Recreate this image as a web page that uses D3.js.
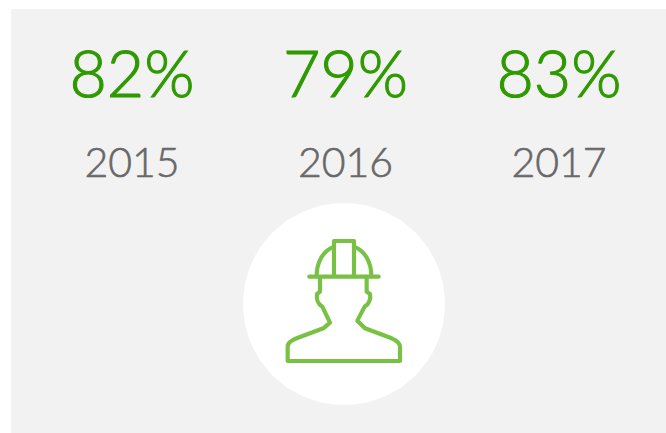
<!DOCTYPE html>
<html>
<head>
<meta charset="utf-8">
<script src="https://cdnjs.cloudflare.com/ajax/libs/d3/7.8.5/d3.min.js"></script>
<style>
html, body { margin: 0; padding: 0; background: #fff; }
svg { display: block; }
text { font-family: Lato, sans-serif; font-weight: 300; }
</style>
</head>
<body>
<svg class="chart"></svg>
<script>
var years = ["2015", "2016", "2017"];
var values = [82, 79, 83];

var width = 666,
    height = 433;

var chart = d3.select(".chart")
    .attr("width", width)
    .attr("height", height);

// Grey panel
chart.append("rect")
    .attr("x", 11)
    .attr("y", 9)
    .attr("width", width - 11)
    .attr("height", height - 9)
    .attr("fill", "#f2f2f3");

// One column per year
var x = d3.scalePoint()
    .domain(years)
    .range([132, 559]);

// Light weight plus a thin stroke gets closer to the original face
chart.selectAll(".value")
    .data(values)
    .enter().append("text")
    .attr("class", "value")
    .attr("x", function (d, i) { return x(years[i]); })
    .attr("y", 97)
    .attr("text-anchor", "middle")
    .attr("font-size", 64.5)
    .attr("fill", "#2f9a00")
    .attr("stroke", "#2f9a00")
    .attr("stroke-width", 1.1)
    .text(function (d) { return d + "%"; });

chart.selectAll(".year")
    .data(years)
    .enter().append("text")
    .attr("class", "year")
    .attr("x", function (d) { return x(d); })
    .attr("y", 177)
    .attr("text-anchor", "middle")
    .attr("font-size", 41)
    .attr("fill", "#686868")
    .attr("stroke", "#686868")
    .attr("stroke-width", 0.6)
    .text(function (d) { return d; });

// White circle with the worker icon
chart.append("circle")
    .attr("cx", 344)
    .attr("cy", 304)
    .attr("r", 101)
    .attr("fill", "#fff");

// Icon drawn at 3x, same numbers as the zoomed crop
var icon = chart.append("g")
    .attr("transform", "translate(270,220) scale(0.3333)")
    .attr("fill", "none")
    .attr("stroke", "#78c144")
    .attr("stroke-width", 12.5)
    .attr("stroke-linejoin", "round")
    .attr("stroke-linecap", "round");

var shapes = [
    "M118 170H326", // brim
    "M192 168V63H252V168", // crown
    "M140 168C140 125 160 92 192 80",
    "M304 168C304 125 284 92 252 80",
    // head and shoulders
    "M150 172V215L141 222C139 235 143 252 157 260L180 308L160 325L80 355C62 362 53 368 53 380V423H390V380C390 368 381 362 365 355L285 325L262 302L284 260C298 252 303 235 300 222L290 215V172"
];

icon.selectAll("path")
    .data(shapes)
    .enter().append("path")
    .attr("d", function (d) { return d; });
</script>
</body>
</html>
